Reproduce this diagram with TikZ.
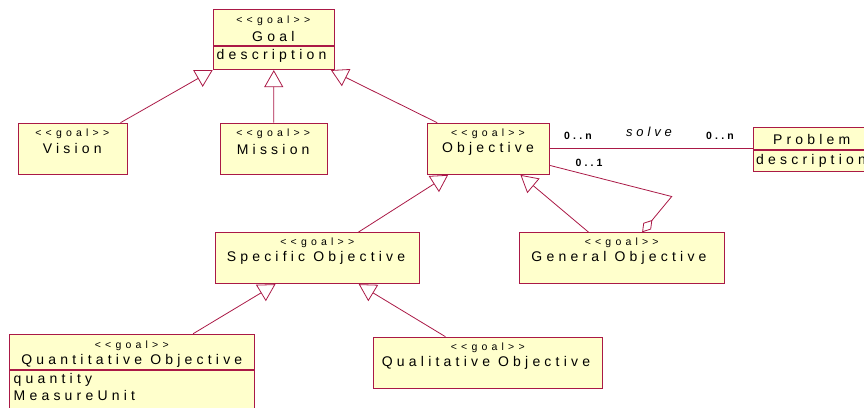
\documentclass[tikz,border=0pt]{standalone}
\usepackage{fontspec}
\setmainfont{Liberation Sans}
\newfontfamily\umlfont[LetterSpace=30]{Liberation Sans}
\newfontfamily\stereofont[LetterSpace=40]{Liberation Sans}
\usetikzlibrary{arrows.meta, positioning}
\definecolor{umlred}{RGB}{170,25,70}
\definecolor{umlyellow}{RGB}{255,255,204}

\begin{document}
\begin{tikzpicture}[x=1pt, y=-1pt]

\tikzset{classbox/.style = {draw=umlred, fill=umlyellow, line width=0.9pt, anchor=north west, inner sep=0pt}}
\tikzset{stereo/.style = {font=\stereofont\fontsize{10.5}{12}\selectfont, inner sep=0pt}}
\tikzset{cname/.style = {font=\umlfont\fontsize{14}{16}\selectfont, inner sep=0pt}}
\tikzset{attr/.style = {font=\umlfont\fontsize{14}{16}\selectfont, inner sep=0pt, anchor=west}}
\tikzset{mult/.style = {font=\umlfont\bfseries\fontsize{10.5}{12}\selectfont, inner sep=0pt}}
\tikzset{inherit/.style = {draw=umlred, line width=0.8pt, -{Triangle[open, length=17pt, width=19pt]}}}
\tikzset{aggr/.style = {draw=umlred, line width=0.8pt, -{Diamond[open, length=16pt, width=10pt]}}}

\useasboundingbox (0,0) rectangle (864,407);

%classes
\node[classbox, minimum width=121.3pt, minimum height=35.7pt] (goal) at (212.7,9.3) {};
\node[classbox, minimum width=121.3pt, minimum height=23.3pt] (goalA) at (goal.south west) {};
\node[stereo] (goalS) at (273.3,20.7) {<<goal>>};
\node[cname] (goalN) at (273.3,36) {Goal};
\node[attr] (goalD) at (216.5,55.5) {description};

\node[classbox, minimum width=108.7pt, minimum height=51.3pt] (vision) at (18,122.7) {};
\node[stereo] (visionS) at (72.3,134) {<<goal>>};
\node[cname] (visionN) at (72.3,148.5) {Vision};

\node[classbox, minimum width=107pt, minimum height=51.3pt] (mission) at (219.7,122.7) {};
\node[stereo] (missionS) at (273.2,134) {<<goal>>};
\node[cname] (missionN) at (273.2,149) {Mission};

\node[classbox, minimum width=122.6pt, minimum height=51.3pt] (obj) at (426.7,122.7) {};
\node[stereo] (objS) at (488,133.5) {<<goal>>};
\node[cname] (objN) at (488,149) {Objective};

\node[classbox, minimum width=118pt, minimum height=22pt] (problem) at (752.7,127.3) {};
\node[classbox, minimum width=118pt, minimum height=20.7pt] (problemA) at (problem.south west) {};
\node[cname] (problemN) at (811.7,139.3) {Problem};
\node[attr] (problemD) at (756,160.5) {description};

\node[classbox, minimum width=204pt, minimum height=51pt] (spec) at (215.3,232.3) {};
\node[stereo] (specS) at (317.3,242.7) {<<goal>>};
\node[cname] (specN) at (316,257.7) {Specific Objective};

\node[classbox, minimum width=204.7pt, minimum height=51pt] (gen) at (519.3,232.3) {};
\node[stereo] (genS) at (621.7,242.7) {<<goal>>};
\node[cname] (genN) at (619,257.7) {General Objective};

\node[classbox, minimum width=245pt, minimum height=35.6pt] (quant) at (9.3,333.7) {};
\node[classbox, minimum width=245pt, minimum height=45pt] (quantA) at (quant.south west) {};
\node[stereo] (quantS) at (131.8,345.7) {<<goal>>};
\node[cname] (quantN) at (131.8,360.7) {Quantitative Objective};
\node[attr] (quantQ) at (13.5,379.5) {quantity};
\node[attr] (quantM) at (13.5,395) {MeasureUnit};

\node[classbox, minimum width=229pt, minimum height=51.6pt] (qual) at (373.3,336.7) {};
\node[stereo] (qualS) at (487.8,347.7) {<<goal>>};
\node[cname] (qualN) at (486,362.7) {Qualitative Objective};

%generalizations
\draw[inherit] ([xshift=47.7pt]vision.north) -- (goalA.south west);
\draw[inherit] (mission.north) -- (goalA.south);
\draw[inherit] ([xshift=-51.3pt]obj.north) -- ([xshift=-4pt]goalA.south east);
\draw[inherit] ([xshift=40.4pt]spec.north) -- ([xshift=-40.3pt]obj.south);
\draw[inherit] ([xshift=-33.4pt]gen.north) -- ([xshift=32pt]obj.south);
\draw[inherit] ([xshift=60.9pt]quant.north) -- ([xshift=-42.3pt]spec.south);
\draw[inherit] ([xshift=-42.8pt]qual.north) -- ([xshift=41pt]spec.south);

%association and aggregation
\draw[draw=umlred, line width=0.8pt] (obj.east) -- (obj.east -| problem.west);
\node[mult] (m1) at (578,136) {0..n};
\node[font=\umlfont\itshape\fontsize{13}{15}\selectfont, inner sep=0pt] (solve) at (649,132) {solve};
\node[mult] (m2) at (720,136) {0..n};
\node[mult] (m3) at (589,163) {0..1};
\coordinate (bend) at (671.7,196.5);
\draw[aggr] ([yshift=-16.7pt]obj.east) -- (bend) -- ([xshift=20pt]gen.north);

\end{tikzpicture}
\end{document}
